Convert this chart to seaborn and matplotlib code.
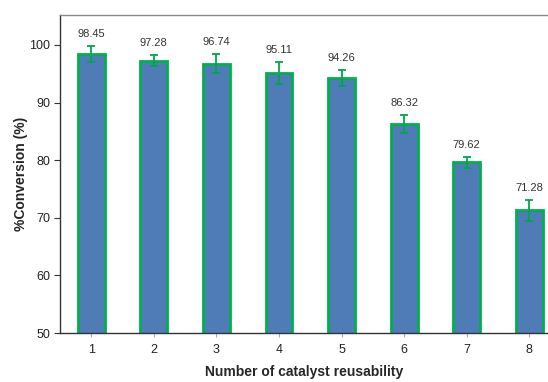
import matplotlib
matplotlib.use("Agg")
import matplotlib.pyplot as plt
import seaborn as sns
import pandas as pd

runs = ["1", "2", "3", "4", "5", "6", "7", "8"]
conversion = [98.45, 97.28, 96.74, 95.11, 94.26, 86.32, 79.62, 71.28]
errors = [1.4, 1.0, 1.6, 1.9, 1.4, 1.6, 1.0, 1.8]
value_labels = ["98.45", "97.28", "96.74", "95.11", "94.26", "86.32", "79.62", "71.28"]

sns.set_style("white")
plt.rcParams["font.family"] = ["Liberation Sans", "DejaVu Sans"]

df = pd.DataFrame({"run": runs, "conv": conversion})

fig = plt.figure(figsize=(5.48, 3.82), dpi=100)
ax = fig.add_axes([0.1095, 0.128, 0.8905, 0.833])

sns.barplot(data=df, x="run", y="conv", color="#4F7CB7", saturation=1,
            edgecolor="#00B04F", linewidth=2.0, width=0.43, errorbar=None, ax=ax)

xs = list(range(len(runs)))
ax.errorbar(xs, conversion, yerr=errors, fmt="none", ecolor="#00A550",
            elinewidth=1.3, capsize=3, capthick=1.3, zorder=5)

for x, v, e, t in zip(xs, conversion, errors, value_labels):
    ax.annotate(t, (x, v + e), xytext=(0, 5), textcoords="offset points",
                ha="center", va="bottom", fontsize=8, color="#333333")

ax.set_ylim(50, 105.2)
ax.set_xlim(-0.5, 7.3)
ax.set_yticks([50, 60, 70, 80, 90, 100])

ax.set_xlabel("Number of catalyst reusability", fontsize=10, fontweight="bold", labelpad=6)
ax.set_ylabel("%Conversion (%)", fontsize=10, fontweight="bold", labelpad=1)

ax.tick_params(axis="y", direction="out", length=4, width=0.8, color="#333333",
               labelsize=9, labelcolor="#222222", left=True, pad=3)
ax.tick_params(axis="x", direction="out", length=3, width=0.8, color="#aaaaaa",
               labelsize=9, labelcolor="#222222", bottom=True, pad=5)

for side in ["left", "bottom"]:
    ax.spines[side].set_color("#333333")
    ax.spines[side].set_linewidth(1.0)
ax.spines["top"].set_color("#888888")
ax.spines["top"].set_linewidth(1.0)
ax.spines["right"].set_visible(False)

fig.savefig("out.png", dpi=100)
